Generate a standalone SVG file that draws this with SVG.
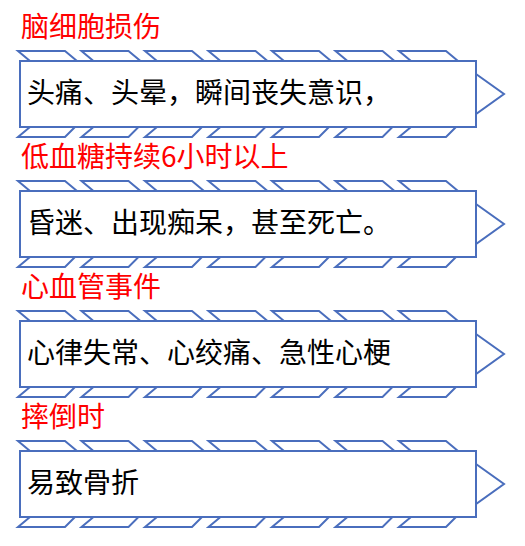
<svg xmlns="http://www.w3.org/2000/svg" xmlns:xlink="http://www.w3.org/1999/xlink" width="525" height="546" viewBox="0 0 525 546">
<style>
.s{fill:#ffffff;stroke:#4A6EBD;stroke-width:2;stroke-linejoin:miter}
.lbl{font-family:"Noto Sans CJK SC","Noto Sans",sans-serif;font-size:28px;fill:#FF0000}
.txt{font-family:"Noto Sans CJK SC","Noto Sans",sans-serif;font-size:28px;fill:#000000}
</style>
<defs>
<polygon id="pt" class="s" points="0,51 47,51 59,61 12,61"/>
<polygon id="pb" class="s" points="0,137 12,127 57,127 47,137"/>
<g id="band">
<use xlink:href="#pt" x="18"/><use xlink:href="#pt" x="81.5"/><use xlink:href="#pt" x="145"/><use xlink:href="#pt" x="208.5"/><use xlink:href="#pt" x="272"/><use xlink:href="#pt" x="335.5"/><use xlink:href="#pt" x="399"/>
<use xlink:href="#pb" x="18"/><use xlink:href="#pb" x="81.5"/><use xlink:href="#pb" x="145"/><use xlink:href="#pb" x="208.5"/><use xlink:href="#pb" x="272"/><use xlink:href="#pb" x="335.5"/><use xlink:href="#pb" x="399"/>
<polygon class="s" points="476,74 504,94 476,114"/>
<rect class="s" x="20" y="61" width="456" height="66"/>
</g>
</defs>
<g id="connectors"></g>
<g id="node1">
<text class="lbl" x="21" y="37">脑细胞损伤</text>
<use xlink:href="#band"/>
<text class="txt" x="27" y="103">头痛、头晕，瞬间丧失意识，</text>
</g>
<g id="node2" transform="translate(0,130)">
<text class="lbl" x="21" y="37">低血糖持续6小时以上</text>
<use xlink:href="#band"/>
<text class="txt" x="27" y="103">昏迷、出现痴呆，甚至死亡。</text>
</g>
<g id="node3" transform="translate(0,260)">
<text class="lbl" x="21" y="37">心血管事件</text>
<use xlink:href="#band"/>
<text class="txt" x="27" y="103">心律失常、心绞痛、急性心梗</text>
</g>
<g id="node4" transform="translate(0,390)">
<text class="lbl" x="21" y="37">摔倒时</text>
<use xlink:href="#band"/>
<text class="txt" x="27" y="103">易致骨折</text>
</g>
</svg>
